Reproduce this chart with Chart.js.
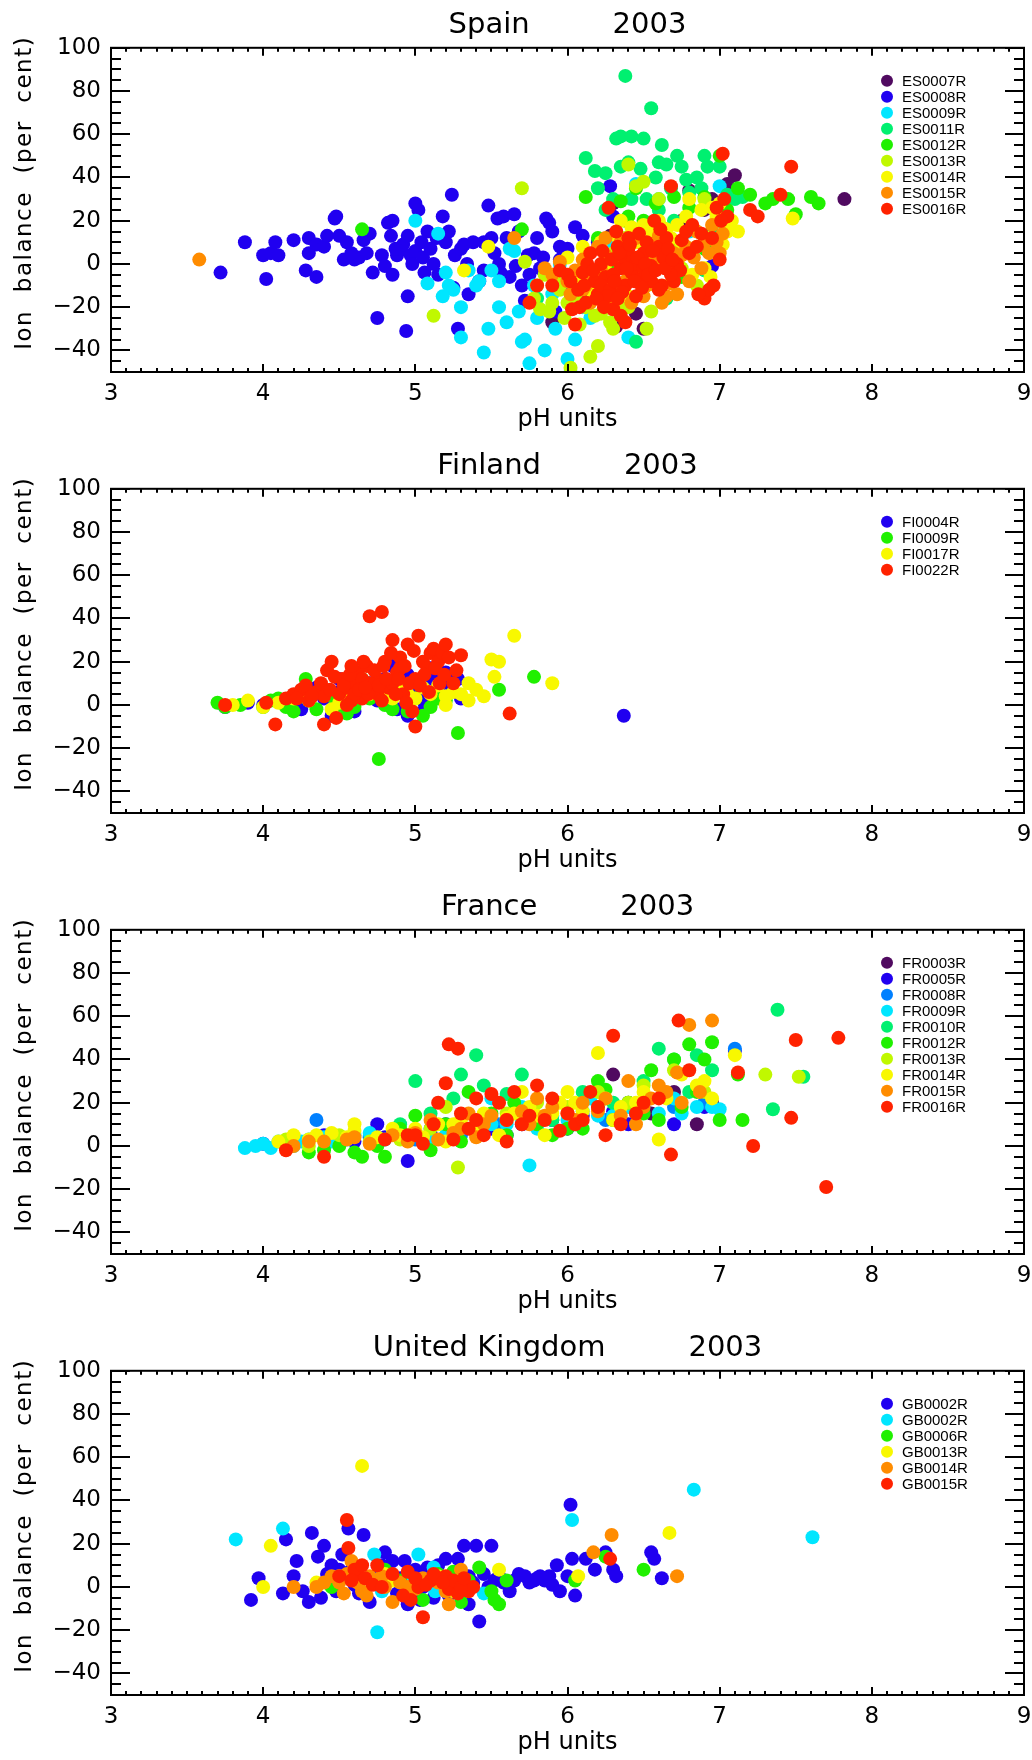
<!DOCTYPE html>
<html>
<head>
<meta charset="utf-8">
<title>Ion balance vs pH, 2003</title>
<script src="https://cdn.jsdelivr.net/npm/chart.js@4.4.1/dist/chart.umd.min.js"></script>
<style>
  html, body { margin: 0; padding: 0; background: #fff; overflow: hidden; }
  .panel { width: 1032px; height: 441px; }
</style>
</head>
<body>
<div class="panel"><canvas id="chartES" width="1032" height="441"></canvas></div>
<div class="panel"><canvas id="chartFI" width="1032" height="441"></canvas></div>
<div class="panel"><canvas id="chartFR" width="1032" height="441"></canvas></div>
<div class="panel"><canvas id="chartGB" width="1032" height="441"></canvas></div>
<script>
// ---- data: [pH, ion balance %] per site ----
const year = '2003';

// Spain
const es0007 = [[5.9,-27],[6.3,28],[6.32,-29],[6.28,13],[6.6,14],[6.8,34],[6.9,25],[7.05,37],[7.1,41],[7.82,30],[6.45,-23],[6.35,-17],[6.1,-16],[6.5,-30],[6.75,20],[6.95,30]];
const es0008 = [[3.72,-4],[3.88,10],[4.0,4],[4.02,-7],[4.05,5],[4.08,10],[4.1,4],[4.28,-3],[4.3,12],[4.3,5],[4.35,-6],[4.35,9],[4.4,8],[4.47,21],[4.48,22],[4.5,13],[4.53,2],[4.55,10],[4.6,2],[4.63,3],[4.66,11],[4.68,5],[4.72,-4],[4.75,-25],[4.78,4],[4.82,19],[4.84,13],[4.85,20],[4.85,-5],[4.88,4],[4.9,7],[4.92,9],[4.94,-31],[4.95,-15],[4.95,13],[4.97,4],[4.98,0],[5.0,6],[5.0,28],[5.02,25],[5.04,10],[5.05,3],[5.06,-4],[5.1,7],[5.12,0],[5.15,-5],[5.18,22],[5.2,10],[5.22,15],[5.24,32],[5.25,-11],[5.26,4],[5.28,-30],[5.3,7],[5.32,9],[5.35,-14],[5.38,10],[5.42,-8],[5.45,-3],[5.48,27],[5.5,12],[5.54,21],[5.55,0],[5.58,22],[5.6,12],[5.62,-6],[5.65,23],[5.68,15],[5.7,-10],[5.72,-17],[5.75,-5],[5.78,5],[5.8,12],[5.84,3],[5.86,21],[5.88,19],[5.9,15],[5.92,-22],[5.95,2],[5.98,-10],[6.0,7],[6.05,17],[6.1,13],[6.2,10],[6.28,36],[6.3,22],[6.5,-9],[6.95,-1],[6.3,0],[6.35,10],
  [4.2,11],[4.42,13],[4.58,5],[4.7,14],[4.8,-1],[4.87,7],[5.08,15],[5.14,12],[5.34,0],[5.45,10],[5.52,5],[5.56,-4],[5.66,-1],[5.74,4],[5.82,-2],[5.95,8]];
const es0009 = [[5.0,20],[5.15,14],[5.08,-9],[5.2,-4],[5.22,-10],[5.25,-12],[5.3,-34],[5.35,-3],[5.4,-10],[5.42,-8],[5.45,-41],[5.48,-30],[5.5,-3],[5.55,-8],[5.6,-27],[5.62,7],[5.65,6],[5.7,-36],[5.72,-35],[5.75,-46],[5.85,-40],[5.9,-14],[6.0,-44],[6.02,-50],[6.1,-20],[6.2,-5],[6.4,-34],[6.45,37],[6.6,30],[7.0,36],[7.05,30],[6.8,15],[6.3,10],[5.95,0],
  [5.55,-20],[5.68,-22],[5.78,-10],[5.8,-25],[5.92,-30],[6.05,-35],[6.15,-25],[5.3,-20],[5.18,-15]];
const es0011 = [[6.12,49],[6.18,43],[6.25,42],[6.32,58],[6.35,59],[6.4,47],[6.38,87],[6.42,59],[6.5,58],[6.55,72],[6.6,47],[6.62,55],[6.65,46],[6.68,35],[6.72,50],[6.78,39],[6.85,40],[6.9,50],[7.0,45],[7.05,32],[7.15,31],[6.48,44],[6.3,30],[6.25,25],[6.6,25],[6.52,30],[6.7,20],[6.8,33],[6.65,-16],[6.45,-36],[6.2,35],[6.3,-10],[6.55,0],[6.9,-3],[6.95,15],[5.8,-16],
  [6.35,45],[6.42,30],[6.58,40],[6.75,45],[6.88,35],[6.92,45],[7.1,30]];
const es0012 = [[4.65,16],[5.7,16],[6.12,31],[6.2,12],[6.35,29],[6.38,20],[6.4,22],[6.45,35],[6.5,20],[6.58,28],[6.6,10],[6.7,31],[6.8,26],[6.9,31],[7.0,50],[7.05,25],[7.12,35],[7.2,32],[7.3,28],[7.35,30],[7.45,30],[7.5,23],[7.6,31],[7.65,28],[7.0,20],[6.95,8],[6.7,-3],[6.75,-6],[6.9,7],[6.3,0],[6.25,-5]];
const es0013 = [[5.12,-24],[5.7,35],[5.72,1],[5.8,-10],[5.82,-21],[5.9,-18],[5.95,-12],[6.0,-18],[6.02,-48],[6.05,-15],[6.1,-8],[6.15,-43],[6.18,-24],[6.22,-23],[6.28,-27],[6.3,-30],[6.35,-14],[6.4,46],[6.45,36],[6.5,38],[6.55,-22],[6.52,-30],[6.48,-8],[6.6,30],[6.62,17],[6.7,10],[6.75,-2],[6.85,-10],[6.9,30],[6.4,-20],[6.3,5],[6.2,-10],[5.85,-5],
  [5.78,-16],[5.88,-22],[5.92,-8],[5.98,-25],[6.08,-28],[6.12,-20],[6.2,-38],[6.25,-15],[6.33,-20],[6.38,12],[6.42,2],[6.58,-10]];
const es0014 = [[5.48,8],[5.32,-3],[6.1,8],[6.2,-5],[6.25,0],[6.3,-10],[6.4,5],[6.45,10],[6.5,18],[6.55,15],[6.6,20],[6.62,8],[6.68,12],[6.72,18],[6.75,10],[6.8,30],[6.85,8],[6.9,-2],[6.92,12],[6.98,22],[7.0,28],[7.05,15],[7.12,15],[7.48,21],[6.82,-5],[6.7,-3],[6.4,-15],[6.35,20],[6.15,-12],[6.05,-8],[5.9,-5],[6.0,3],
  [6.12,-3],[6.22,10],[6.32,13],[6.42,17],[6.52,5],[6.58,12],[6.65,16],[6.78,22],[6.88,25],[6.94,-6],[7.02,9],[7.08,20],[6.95,26]];
const es0015 = [[3.58,2],[5.65,12],[5.85,-2],[5.9,-5],[5.95,1],[6.0,-8],[6.05,-3],[6.1,2],[6.15,-6],[6.2,8],[6.25,4],[6.3,-12],[6.35,10],[6.4,-3],[6.45,12],[6.5,-5],[6.55,8],[6.58,2],[6.6,13],[6.65,-15],[6.7,5],[6.75,4],[6.8,-8],[6.85,15],[6.9,10],[6.95,18],[7.0,5],[6.15,-18],[6.3,-20],[6.5,-15],[6.1,-12],[6.42,-2],[6.25,12],
  [6.02,-14],[6.12,-10],[6.22,-3],[6.28,-6],[6.33,3],[6.38,-8],[6.47,2],[6.52,-10],[6.57,-3],[6.62,5],[6.68,-9],[6.72,-14],[6.78,8],[6.83,3],[6.88,-2],[6.93,5],[6.98,10],[7.02,14],[6.42,-18],[6.62,-18]];
const es0016 = [[5.75,-18],[5.8,-10],[5.9,-10],[5.95,-3],[6.0,-5],[6.03,-21],[6.05,-28],[6.08,-20],[6.1,-4],[6.12,-18],[6.15,5],[6.18,-8],[6.2,-14],[6.22,0],[6.25,-6],[6.27,26],[6.3,-21],[6.32,15],[6.33,8],[6.35,-2],[6.37,3],[6.38,-10],[6.4,12],[6.42,-4],[6.43,2],[6.45,0],[6.47,14],[6.48,-7],[6.5,5],[6.52,10],[6.55,-1],[6.57,20],[6.6,8],[6.62,-10],[6.63,3],[6.65,12],[6.68,36],[6.7,-8],[6.72,0],[6.74,-3],[6.75,11],[6.78,15],[6.8,5],[6.82,18],[6.85,8],[6.88,14],[6.9,-16],[6.93,-12],[6.95,12],[6.98,26],[7.0,2],[7.02,51],[7.05,22],[7.2,25],[7.25,22],[7.4,32],[7.47,45],[6.35,-24],[6.38,-27],[6.3,-5],[6.22,-10],[6.45,-15],[6.28,-12],[6.55,-8],[6.6,-12],[6.68,-5],[6.4,7],[6.5,-2],
  [6.02,-8],[6.07,-12],[6.13,0],[6.17,-3],[6.23,6],[6.26,-15],[6.29,2],[6.31,-8],[6.34,5],[6.36,-13],[6.39,-2],[6.41,9],[6.44,-8],[6.46,3],[6.49,-11],[6.51,0],[6.53,-5],[6.56,6],[6.58,-3],[6.61,16],[6.64,-2],[6.66,7],[6.69,2],[7.01,20],[7.03,30],[6.96,-10],[6.86,-14],[6.11,-10],[6.19,-16],[6.24,-20],[6.33,-16]];

// Finland
const fi0004 = [[3.75,-1],[3.9,1],[4.0,0],[4.1,2],[4.2,1],[4.3,5],[4.4,3],[4.5,6],[4.55,0],[4.6,8],[4.65,4],[4.7,10],[4.75,2],[4.8,12],[4.85,6],[4.9,15],[4.95,-5],[5.0,5],[5.05,2],[5.1,17],[5.12,12],[5.15,6],[5.2,15],[5.25,14],[5.22,10],[5.3,3],[6.37,-5],[4.45,-5],[4.5,12],[4.6,-3],[4.88,-2],[5.05,-3],[4.35,8],[4.25,-2],
  [4.55,10],[4.75,8],[4.85,18],[5.05,10],[5.18,8],[5.28,12],[4.95,14]];
const fi0009 = [[3.7,1],[3.75,-1],[3.85,0],[4.0,-1],[4.1,3],[4.2,-3],[4.3,2],[4.35,-2],[4.45,4],[4.5,0],[4.55,6],[4.6,-1],[4.7,3],[4.76,-25],[4.8,0],[4.9,8],[4.95,-3],[5.0,3],[5.1,-1],[5.2,2],[5.28,-13],[5.78,13],[5.55,7],[4.65,12],[4.4,6],[4.28,12],
  [4.05,2],[4.15,-1],[4.25,4],[4.55,-4],[4.85,-2],[5.05,-5],[5.15,3]];
const fi0017 = [[3.8,0],[3.9,2],[4.0,-1],[4.1,1],[4.2,3],[4.3,2],[4.4,5],[4.5,1],[4.6,4],[4.7,5],[4.8,6],[4.9,7],[5.0,3],[5.1,5],[5.2,4],[5.3,5],[5.35,2],[5.4,7],[5.5,21],[5.55,20],[5.52,13],[5.65,32],[5.9,10],[5.35,10],[5.2,0],[4.45,-2],
  [4.25,5],[4.55,3],[4.65,8],[4.75,10],[4.85,3],[4.95,5],[5.05,8],[5.15,9],[5.25,6],[5.45,4]];
const fi0022 = [[3.75,0],[4.02,1],[4.08,-9],[4.15,3],[4.2,5],[4.25,7],[4.3,2],[4.35,6],[4.4,-9],[4.42,16],[4.45,20],[4.48,-6],[4.5,5],[4.52,12],[4.55,8],[4.58,2],[4.6,10],[4.62,15],[4.65,3],[4.68,18],[4.7,41],[4.72,7],[4.75,12],[4.78,43],[4.8,20],[4.82,8],[4.85,30],[4.88,15],[4.9,22],[4.92,5],[4.95,28],[4.98,-3],[5.0,-10],[5.02,32],[5.05,20],[5.08,17],[5.1,24],[5.12,26],[5.15,20],[5.18,24],[5.2,28],[5.25,10],[5.3,23],[5.62,-4],[4.7,10],[4.6,5],[4.85,10],[4.75,5],[4.9,17],[4.55,0],[4.65,12],[5.0,12],[4.4,4],
  [4.22,3],[4.28,9],[4.32,4],[4.38,10],[4.44,7],[4.47,13],[4.53,9],[4.57,14],[4.63,7],[4.66,20],[4.69,5],[4.73,16],[4.76,9],[4.79,18],[4.81,12],[4.84,24],[4.87,5],[4.89,12],[4.93,18],[4.96,10],[4.99,25],[5.03,9],[5.06,14],[5.09,6],[5.13,17],[5.16,10],[5.19,14],[5.22,22],[5.27,16],[4.67,8],[4.58,18],[4.78,2],[4.94,1]];

// France
const fr0003 = [[6.3,33],[6.7,25],[6.55,15],[6.85,10],[6.95,20],[6.4,20]];
const fr0005 = [[4.0,1],[4.2,3],[4.4,5],[4.6,2],[4.8,4],[4.95,-7],[5.1,6],[5.3,8],[5.5,8],[5.7,10],[5.9,12],[6.1,14],[6.3,16],[6.5,18],[6.7,10],[6.9,18],[7.1,44],[4.75,10],[5.2,10],[5.6,5],[6.0,8],[6.4,10]];
const fr0008 = [[4.35,12],[4.5,3],[4.7,4],[4.9,6],[5.1,8],[5.3,5],[5.55,10],[5.8,12],[6.05,10],[6.25,12],[6.45,15],[6.7,18],[6.9,20],[7.1,45],[5.0,3],[4.2,2]];
const fr0009 = [[3.88,-1],[3.95,0],[4.0,1],[4.05,-1],[4.1,2],[4.2,0],[4.3,3],[4.45,2],[4.6,5],[4.8,3],[5.0,7],[5.2,5],[5.4,6],[5.6,10],[5.75,-9],[5.8,8],[6.0,12],[6.2,14],[6.4,18],[6.6,15],[6.75,15],[6.85,18],[6.95,18],[5.5,22],[5.7,18],[6.15,22],[4.7,6],
  [4.15,1],[4.25,2],[4.4,4],[4.55,3],[4.9,5],[5.1,4],[5.3,8],[5.5,10],[5.7,12],[5.9,14],[6.1,16],[6.3,14],[6.5,20],[6.7,22],[7.0,17]];
const fr0010 = [[5.3,33],[5.1,15],[5.4,42],[5.45,28],[5.6,24],[5.7,33],[5.9,12],[6.1,25],[6.3,20],[6.5,30],[6.6,45],[6.7,40],[6.85,42],[6.95,35],[7.38,63],[7.35,17],[7.55,32],[4.9,10],[5.0,30],[5.25,22],[6.2,18],[6.8,25]];
const fr0012 = [[4.3,-3],[4.5,0],[4.65,-5],[4.8,-5],[4.9,8],[5.0,14],[5.2,10],[5.4,6],[5.5,15],[5.65,20],[5.8,10],[6.0,8],[6.2,30],[6.4,20],[6.6,12],[6.7,40],[6.8,47],[6.9,40],[6.95,48],[7.0,12],[7.15,12],[7.12,33],[6.25,26],[5.35,25],[6.55,35],
  [4.4,-2],[4.6,-3],[4.75,0],[5.1,-2],[5.3,2],[5.6,5],[5.9,5],[6.1,8],[6.3,12],[6.5,15],[6.75,18],[6.85,25]];
const fr0013 = [[4.15,3],[4.3,0],[4.5,5],[4.7,2],[4.9,3],[5.1,8],[5.28,-10],[5.4,12],[5.6,15],[5.8,20],[6.0,18],[6.2,25],[6.5,28],[6.7,35],[6.9,25],[7.3,33],[7.52,32],[6.4,20],[5.2,18]];
const fr0014 = [[4.2,5],[4.3,3],[4.45,6],[4.6,7],[4.75,4],[4.9,5],[5.0,8],[5.15,10],[5.3,12],[5.45,15],[5.6,13],[5.75,18],[5.9,15],[6.05,20],[6.2,43],[6.35,18],[6.5,25],[6.6,3],[6.75,33],[6.9,30],[7.1,42],[5.2,2],[5.55,5],[5.85,5],[6.3,12],[4.6,10],[5.7,25],[6.0,25],
  [4.1,2],[4.35,5],[4.55,4],[4.85,8],[5.05,4],[5.25,10],[5.4,8],[5.65,15],[5.8,14],[5.95,20],[6.1,16],[6.25,22],[6.45,20],[6.65,22],[6.85,28],[6.95,22]];
const fr0015 = [[4.2,0],[4.4,2],[4.55,3],[4.7,1],[4.85,5],[5.0,6],[5.15,3],[5.3,8],[5.45,10],[5.6,12],[5.75,10],[5.9,18],[6.0,15],[6.1,20],[6.25,22],[6.4,30],[6.55,22],[6.65,25],[6.72,34],[6.8,56],[6.87,25],[6.95,58],[5.8,22],[6.45,10],[5.35,15],
  [4.3,2],[4.6,4],[4.95,2],[5.1,12],[5.25,6],[5.4,4],[5.5,14],[5.7,16],[5.85,14],[6.05,12],[6.2,16],[6.35,14],[6.5,18],[6.6,28],[6.75,20]];
const fr0016 = [[4.15,-2],[4.4,-5],[4.8,3],[4.95,5],[5.05,1],[5.15,20],[5.2,29],[5.22,47],[5.28,45],[5.3,15],[5.35,8],[5.4,22],[5.45,5],[5.5,24],[5.55,20],[5.6,12],[5.65,25],[5.7,10],[5.75,14],[5.8,28],[5.85,12],[5.9,22],[5.95,7],[6.0,15],[6.05,10],[6.1,12],[6.15,25],[6.2,18],[6.3,51],[6.35,10],[6.5,20],[6.6,22],[6.68,-4],[6.73,58],[6.8,35],[7.12,34],[7.22,0],[7.47,13],[7.5,49],[7.7,-19],[7.78,50],[5.25,3],[5.0,5],[5.4,12],[5.6,2],[6.25,5],[6.45,15],[5.12,10]];

// United Kingdom
const gb0002a = [[3.92,-6],[3.97,4],[4.13,-3],[4.15,22],[4.2,5],[4.22,12],[4.26,-2],[4.3,-7],[4.32,25],[4.36,14],[4.38,-5],[4.4,19],[4.45,10],[4.5,8],[4.52,15],[4.56,27],[4.6,1],[4.66,24],[4.7,-7],[4.75,5],[4.8,16],[4.85,12],[4.9,4],[4.95,-8],[5.0,8],[5.05,0],[5.12,-5],[5.15,10],[5.2,13],[5.25,5],[5.28,13],[5.32,19],[5.35,-8],[5.4,19],[5.42,-16],[5.45,6],[5.5,19],[5.52,3],[5.58,2],[5.62,-2],[5.68,6],[5.72,5],[5.78,3],[5.82,5],[5.85,3],[5.9,1],[5.93,10],[5.95,-2],[6.02,38],[6.03,13],[6.05,-4],[6.12,13],[6.18,8],[6.25,16],[6.3,8],[6.32,5],[6.55,16],[6.57,13],[6.62,4],[5.1,3],[5.35,5],
  [4.42,6],[4.48,-2],[4.58,8],[4.63,-3],[4.72,3],[4.78,10],[4.83,5],[4.88,-3],[4.93,12],[4.98,3],[5.03,-6],[5.08,9],[5.18,3],[5.22,-4],[5.3,4],[5.38,2],[5.48,0],[5.55,5],[5.65,3],[5.75,2],[5.8,4],[5.88,5],[6.0,5]];
const gb0002b = [[3.82,22],[4.13,27],[4.73,15],[4.75,-21],[4.78,-2],[5.02,15],[5.12,9],[5.13,-2],[5.45,-3],[6.03,31],[6.83,45],[7.61,23],[4.95,5],[5.2,0]];
const gb0006 = [[4.45,0],[4.8,8],[5.05,-6],[5.15,6],[5.25,7],[5.3,-7],[5.35,3],[5.42,9],[5.5,-2],[5.52,-6],[5.55,-8],[5.6,3],[6.05,3],[6.25,14],[6.5,8],[4.9,3]];
const gb0013 = [[4.0,0],[4.05,19],[4.35,2],[4.5,5],[4.65,56],[4.7,4],[4.85,3],[5.0,2],[5.15,5],[5.25,-2],[5.55,8],[6.07,5],[6.67,25],[4.8,6]];
const gb0014 = [[4.2,0],[4.4,2],[4.5,2],[4.53,-3],[4.55,6],[4.58,12],[4.6,10],[4.65,-2],[4.75,3],[4.8,0],[4.85,-7],[4.9,2],[5.0,-1],[5.1,3],[5.15,2],[5.22,-8],[5.3,8],[6.17,16],[6.29,24],[6.72,5],[4.7,5],
  [4.35,0],[4.45,5],[4.62,2],[4.68,-4],[4.78,5],[4.95,0],[5.05,4],[5.2,-2]];
const gb0015 = [[4.55,31],[4.56,18],[4.62,6],[4.67,4],[4.72,1],[4.75,10],[4.95,7],[4.97,-6],[5.02,0],[5.05,-14],[5.1,3],[5.15,4],[5.2,5],[5.22,-1],[5.25,3],[5.28,-3],[5.35,-2],[5.38,0],[6.28,13],[4.6,8],
  [4.5,5],[4.58,3],[4.65,10],[4.78,0],[4.85,6],[4.92,-4],[5.0,4],[5.07,1],[5.12,6],[5.18,2],[5.3,0],[5.32,4]];

// rainbow colours
const C = {
  purple: '#500a60', blue: '#2000f0', azure: '#0080ff', cyan: '#00e6ff',
  spring: '#00f070', green: '#20f000', lime: '#c0f800', yellow: '#f8f800',
  orange: '#ff8c00', red: '#ff2200'
};

const FONT = 'DejaVu Sans';

// axis frame with inward ticks on all four sides, plus the y title
const framePlugin = {
  id: 'frame',
  afterDatasetsDraw(chart) {
    const {ctx, chartArea: a, scales: {x, y}} = chart;
    ctx.save();
    ctx.strokeStyle = '#000';
    ctx.lineWidth = 2;
    ctx.strokeRect(a.left, a.top, a.right - a.left, a.bottom - a.top);
    ctx.beginPath();
    for (let k = 30; k <= 90; k++) {
      const px = Math.round(x.getPixelForValue(k / 10));
      const len = k % 10 === 0 ? 8 : 4;
      ctx.moveTo(px, a.bottom); ctx.lineTo(px, a.bottom - len);
      ctx.moveTo(px, a.top); ctx.lineTo(px, a.top + len);
    }
    for (let k = -50; k <= 100; k += 5) {
      const py = Math.round(y.getPixelForValue(k));
      const len = k % 20 === 0 ? 19 : 10;
      ctx.moveTo(a.left, py); ctx.lineTo(a.left + len, py);
      ctx.moveTo(a.right, py); ctx.lineTo(a.right - len, py);
    }
    ctx.stroke();

    // spaced-out y title
    ctx.translate(25, a.top + 145);
    ctx.rotate(-Math.PI / 2);
    ctx.letterSpacing = '1.5px';
    ctx.font = '23px "' + FONT + '"';
    ctx.fillStyle = '#000';
    ctx.textAlign = 'center';
    ctx.textBaseline = 'middle';
    ctx.fillText('Ion  balance  (per  cent)', 0, 0);
    ctx.restore();
  }
};

// site key, top right inside the plot
const keyPlugin = {
  id: 'siteKey',
  afterDraw(chart) {
    const {ctx, chartArea: a} = chart;
    ctx.save();
    ctx.font = '15px "Liberation Sans", Arial, sans-serif';
    ctx.textBaseline = 'middle';
    ctx.textAlign = 'left';
    chart.data.datasets.forEach((ds, i) => {
      const cy = a.top + 33 + 16 * i;
      const cx = a.right - 137;
      ctx.fillStyle = ds.backgroundColor;
      ctx.beginPath();
      ctx.arc(cx, cy, 6, 0, Math.PI * 2);
      ctx.fill();
      ctx.fillStyle = '#000';
      ctx.fillText(ds.label, cx + 15, cy + 1);
    });
    ctx.restore();
  }
};

function makePanel(canvasId, country, labels, series, colors) {
  const ctx = document.getElementById(canvasId).getContext('2d');
  const n = series.length;

  const datasets = series.map((pts, i) => ({
    label: labels[i],
    data: pts.map(p => ({x: p[0], y: p[1]})),
    backgroundColor: colors[i],
    borderWidth: 0,
    pointRadius: 7,
    pointHoverRadius: 7,
    order: n - i,     // later sites drawn on top
    clip: 0
  }));

  new Chart(ctx, {
    type: 'scatter',
    data: {datasets: datasets},
    options: {
      responsive: false,
      animation: false,
      devicePixelRatio: 1,
      layout: {padding: {left: 0, right: 8, top: 0, bottom: 0}},
      plugins: {
        legend: {display: false},
        tooltip: {enabled: false},
        title: {
          display: true,
          fullSize: false,
          text: country + '         ' + year,
          color: '#000',
          font: {family: FONT, size: 29, weight: 'normal'},
          padding: {top: 8, bottom: 5}
        }
      },
      scales: {
        x: {
          type: 'linear',
          min: 3,
          max: 9,
          grid: {display: false, drawTicks: false},
          border: {display: false},
          ticks: {
            stepSize: 1,
            color: '#000',
            padding: 8,
            maxRotation: 0,
            font: {family: FONT, size: 23}
          },
          title: {
            display: true,
            text: 'pH units',
            color: '#000',
            font: {family: FONT, size: 24},
            padding: {top: 0, bottom: 7}
          },
          afterFit(scale) {
            scale.height = 69;
            scale.paddingLeft = 0;
            scale.paddingRight = 0;
          }
        },
        y: {
          type: 'linear',
          min: -50,
          max: 100,
          grid: {display: false, drawTicks: false},
          border: {display: false},
          ticks: {
            stepSize: 20,
            includeBounds: false,
            color: '#000',
            padding: 10,
            font: {family: FONT, size: 23},
            callback: v => v < 0 ? '\u2212' + Math.abs(v) : String(v)
          },
          afterFit(scale) { scale.width = 111; }
        }
      }
    },
    plugins: [framePlugin, keyPlugin]
  });
}

makePanel('chartES', 'Spain',
  ['ES0007R', 'ES0008R', 'ES0009R', 'ES0011R', 'ES0012R', 'ES0013R', 'ES0014R', 'ES0015R', 'ES0016R'],
  [es0007, es0008, es0009, es0011, es0012, es0013, es0014, es0015, es0016],
  [C.purple, C.blue, C.cyan, C.spring, C.green, C.lime, C.yellow, C.orange, C.red]);

makePanel('chartFI', 'Finland',
  ['FI0004R', 'FI0009R', 'FI0017R', 'FI0022R'],
  [fi0004, fi0009, fi0017, fi0022],
  [C.blue, C.green, C.yellow, C.red]);

makePanel('chartFR', 'France',
  ['FR0003R', 'FR0005R', 'FR0008R', 'FR0009R', 'FR0010R', 'FR0012R', 'FR0013R', 'FR0014R', 'FR0015R', 'FR0016R'],
  [fr0003, fr0005, fr0008, fr0009, fr0010, fr0012, fr0013, fr0014, fr0015, fr0016],
  [C.purple, C.blue, C.azure, C.cyan, C.spring, C.green, C.lime, C.yellow, C.orange, C.red]);

makePanel('chartGB', 'United Kingdom',
  ['GB0002R', 'GB0002R', 'GB0006R', 'GB0013R', 'GB0014R', 'GB0015R'],
  [gb0002a, gb0002b, gb0006, gb0013, gb0014, gb0015],
  [C.blue, C.cyan, C.green, C.yellow, C.orange, C.red]);
</script>
</body>
</html>
